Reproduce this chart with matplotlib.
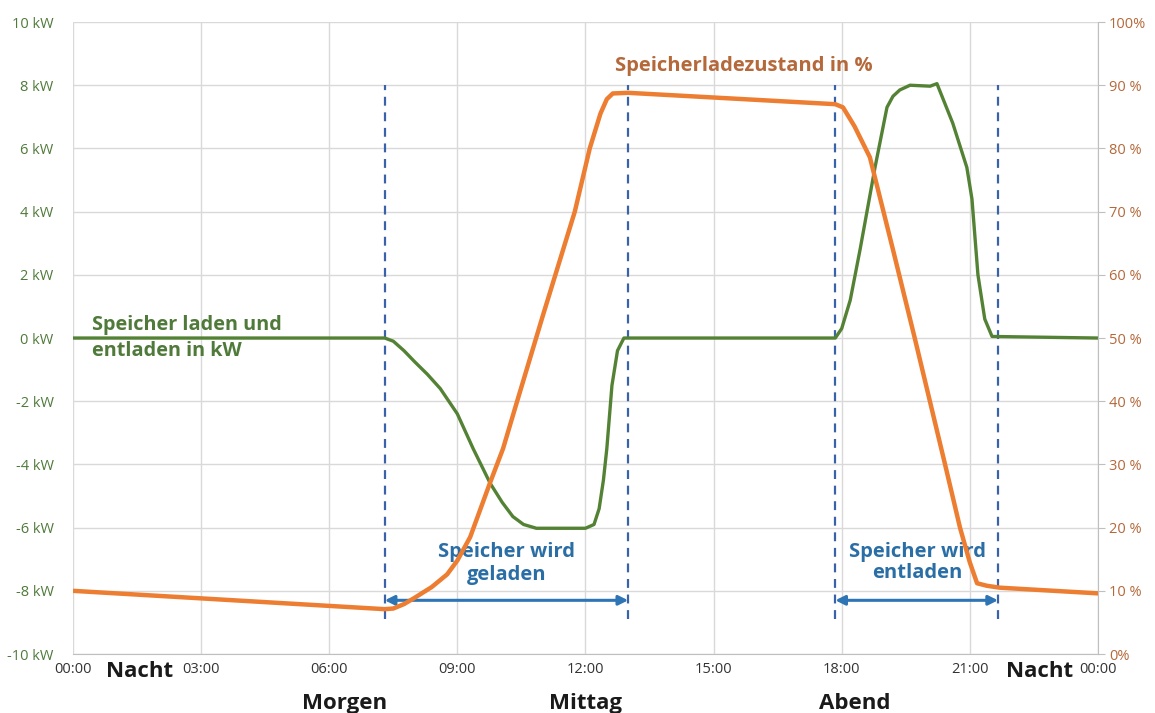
import matplotlib
matplotlib.use("Agg")
import matplotlib.pyplot as plt

#-------------------------------------------------------------------------
#   Data
#-------------------------------------------------------------------------

# Speicher laden / entladen (kW), x in Stunden
power_hours = [0, 7.3, 7.5, 7.75, 8.0, 8.3, 8.6, 9.0, 9.37, 9.77, 10.05, 10.3, 10.55,
               10.85, 11.5, 12.0, 12.2, 12.32, 12.42, 12.5, 12.62, 12.75, 12.9, 13.0,
               17.85, 18.0, 18.2, 18.43, 18.78, 19.06, 19.2, 19.36, 19.6, 20.07, 20.23,
               20.6, 20.93, 21.05, 21.19, 21.35, 21.52, 24]
power_kw = [0, 0, -0.1, -0.4, -0.75, -1.15, -1.6, -2.4, -3.5, -4.6, -5.2, -5.65, -5.9,
            -6.02, -6.02, -6.02, -5.9, -5.4, -4.5, -3.5, -1.5, -0.4, 0, 0,
            0, 0.3, 1.2, 2.8, 5.4, 7.3, 7.65, 7.85, 8.0, 7.97, 8.05,
            6.8, 5.4, 4.4, 2.0, 0.6, 0.05, 0]

# Speicherladezustand (%)
soc_hours = [0, 7.3, 7.5, 7.75, 8.0, 8.4, 8.76, 9.0, 9.3, 9.76, 10.07, 10.4, 11.0,
             11.75, 12.1, 12.35, 12.5, 12.64, 13.0, 17.85, 18.03, 18.3, 18.66, 19.2,
             19.71, 20.42, 20.77, 21.0, 21.17, 21.4, 21.7, 24]
soc_pct = [10.0, 7.1, 7.2, 7.9, 8.9, 10.6, 12.6, 14.8, 18.5, 27, 32.5, 40, 53.5,
           70, 80, 85.5, 87.8, 88.7, 88.8, 87.0, 86.5, 83.5, 78.6, 64,
           50, 30, 20, 14.5, 11.2, 10.8, 10.5, 9.6]

# Phasengrenzen (Stunden)
phase_bounds = [7.3, 13.0, 17.85, 21.66]

x_ticks = [0, 3, 6, 9, 12, 15, 18, 21, 24]
x_labels = ["00:00", "03:00", "06:00", "09:00", "12:00", "15:00", "18:00", "21:00", "00:00"]
kw_ticks = [-10, -8, -6, -4, -2, 0, 2, 4, 6, 8, 10]
pct_ticks = [0, 10, 20, 30, 40, 50, 60, 70, 80, 90, 100]
pct_labels = ["0%", "10 %", "20 %", "30 %", "40 %", "50 %", "60 %", "70 %", "80 %", "90 %", "100%"]

period_names = ["Nacht", "Morgen", "Mittag", "Abend", "Nacht"]
period_hours = [1.57, 6.37, 11.99, 18.31, 22.64]
period_low = [False, True, True, True, False]

#-------------------------------------------------------------------------
#   Colours
#-------------------------------------------------------------------------

GREEN = "#548235"
GREEN_TXT = "#4f7a3a"
ORANGE = "#ed7d31"
ORANGE_TXT = "#b5683a"
BLUE = "#2e75b6"
BLUE_TXT = "#2a6ea6"
DASH = "#3a62a8"
GRID = "#d9d9d9"

plt.rcParams["font.family"] = ["Open Sans", "DejaVu Sans"]

fig = plt.figure(figsize=(11.55, 7.13), dpi=100)
ax = fig.add_axes([0.0632, 0.0827, 0.8874, 0.8864])
ax2 = ax.twinx()

# grid and frame
ax.set_xlim(0, 24)
ax.set_ylim(-10, 10)
ax.set_xticks(x_ticks)
ax.set_xticklabels(x_labels)
ax.set_yticks(kw_ticks)
ax.set_yticklabels([f"{v} kW" for v in kw_ticks])
ax.grid(True, color=GRID, linewidth=1)
ax.set_axisbelow(True)
for s in ["left", "top", "right"]:
    ax.spines[s].set_visible(False)
ax.spines["bottom"].set_color("#bfbfbf")
ax.tick_params(axis="x", length=0, pad=6, labelsize=10.5, labelcolor="#333333")
ax.tick_params(axis="y", length=0, pad=14, labelsize=10.5, labelcolor=GREEN_TXT)

ax2.set_ylim(0, 100)
ax2.set_yticks(pct_ticks)
ax2.set_yticklabels(pct_labels)
for s in ["left", "top", "bottom"]:
    ax2.spines[s].set_visible(False)
ax2.spines["right"].set_color("#bfbfbf")
ax2.tick_params(axis="y", length=5, color="#bfbfbf", pad=3, labelsize=10.5, labelcolor=ORANGE_TXT)

# phase boundaries
for h in phase_bounds:
    ax.plot([h, h], [-8.9, 8.0], color=DASH, linewidth=1.6, linestyle=(0, (4, 3)), zorder=2)

# lines
ax.plot(power_hours, power_kw, color=GREEN, linewidth=2.4, solid_joinstyle="round",
        solid_capstyle="round", zorder=3)
ax2.plot(soc_hours, soc_pct, color=ORANGE, linewidth=3.2, solid_joinstyle="round",
         solid_capstyle="round", zorder=3)

# arrows
arrow_y = -8.3
for a, b in [(phase_bounds[0], phase_bounds[1]), (phase_bounds[2], phase_bounds[3])]:
    ax.annotate("", xy=(b, arrow_y), xytext=(a, arrow_y),
                arrowprops=dict(arrowstyle="<|-|>", color=BLUE, lw=2.2,
                                mutation_scale=14, shrinkA=0, shrinkB=0), zorder=4)

# labels
ax.text(0.45, 0.0, "Speicher laden und\nentladen in kW", color=GREEN_TXT, fontsize=14.3,
        fontweight="bold", ha="left", va="center", linespacing=1.45)
ax.text(15.71, 8.6, "Speicherladezustand in %", color=ORANGE_TXT, fontsize=14.5,
        fontweight="bold", ha="center", va="center")
ax.text(10.15, -7.15, "Speicher wird\ngeladen", color=BLUE_TXT, fontsize=14.5,
        fontweight="bold", ha="center", va="center", linespacing=1.2)
ax.text(19.77, -7.1, "Speicher wird\nentladen", color=BLUE_TXT, fontsize=14.5,
        fontweight="bold", ha="center", va="center", linespacing=1.1)

for name, h, low in zip(period_names, period_hours, period_low):
    y = -0.078 if low else -0.027
    ax.text(h, y, name, transform=ax.get_xaxis_transform(), fontsize=16,
            fontweight="bold", color="#1a1a1a", ha="center", va="center")

fig.savefig("out.png", dpi=100)
